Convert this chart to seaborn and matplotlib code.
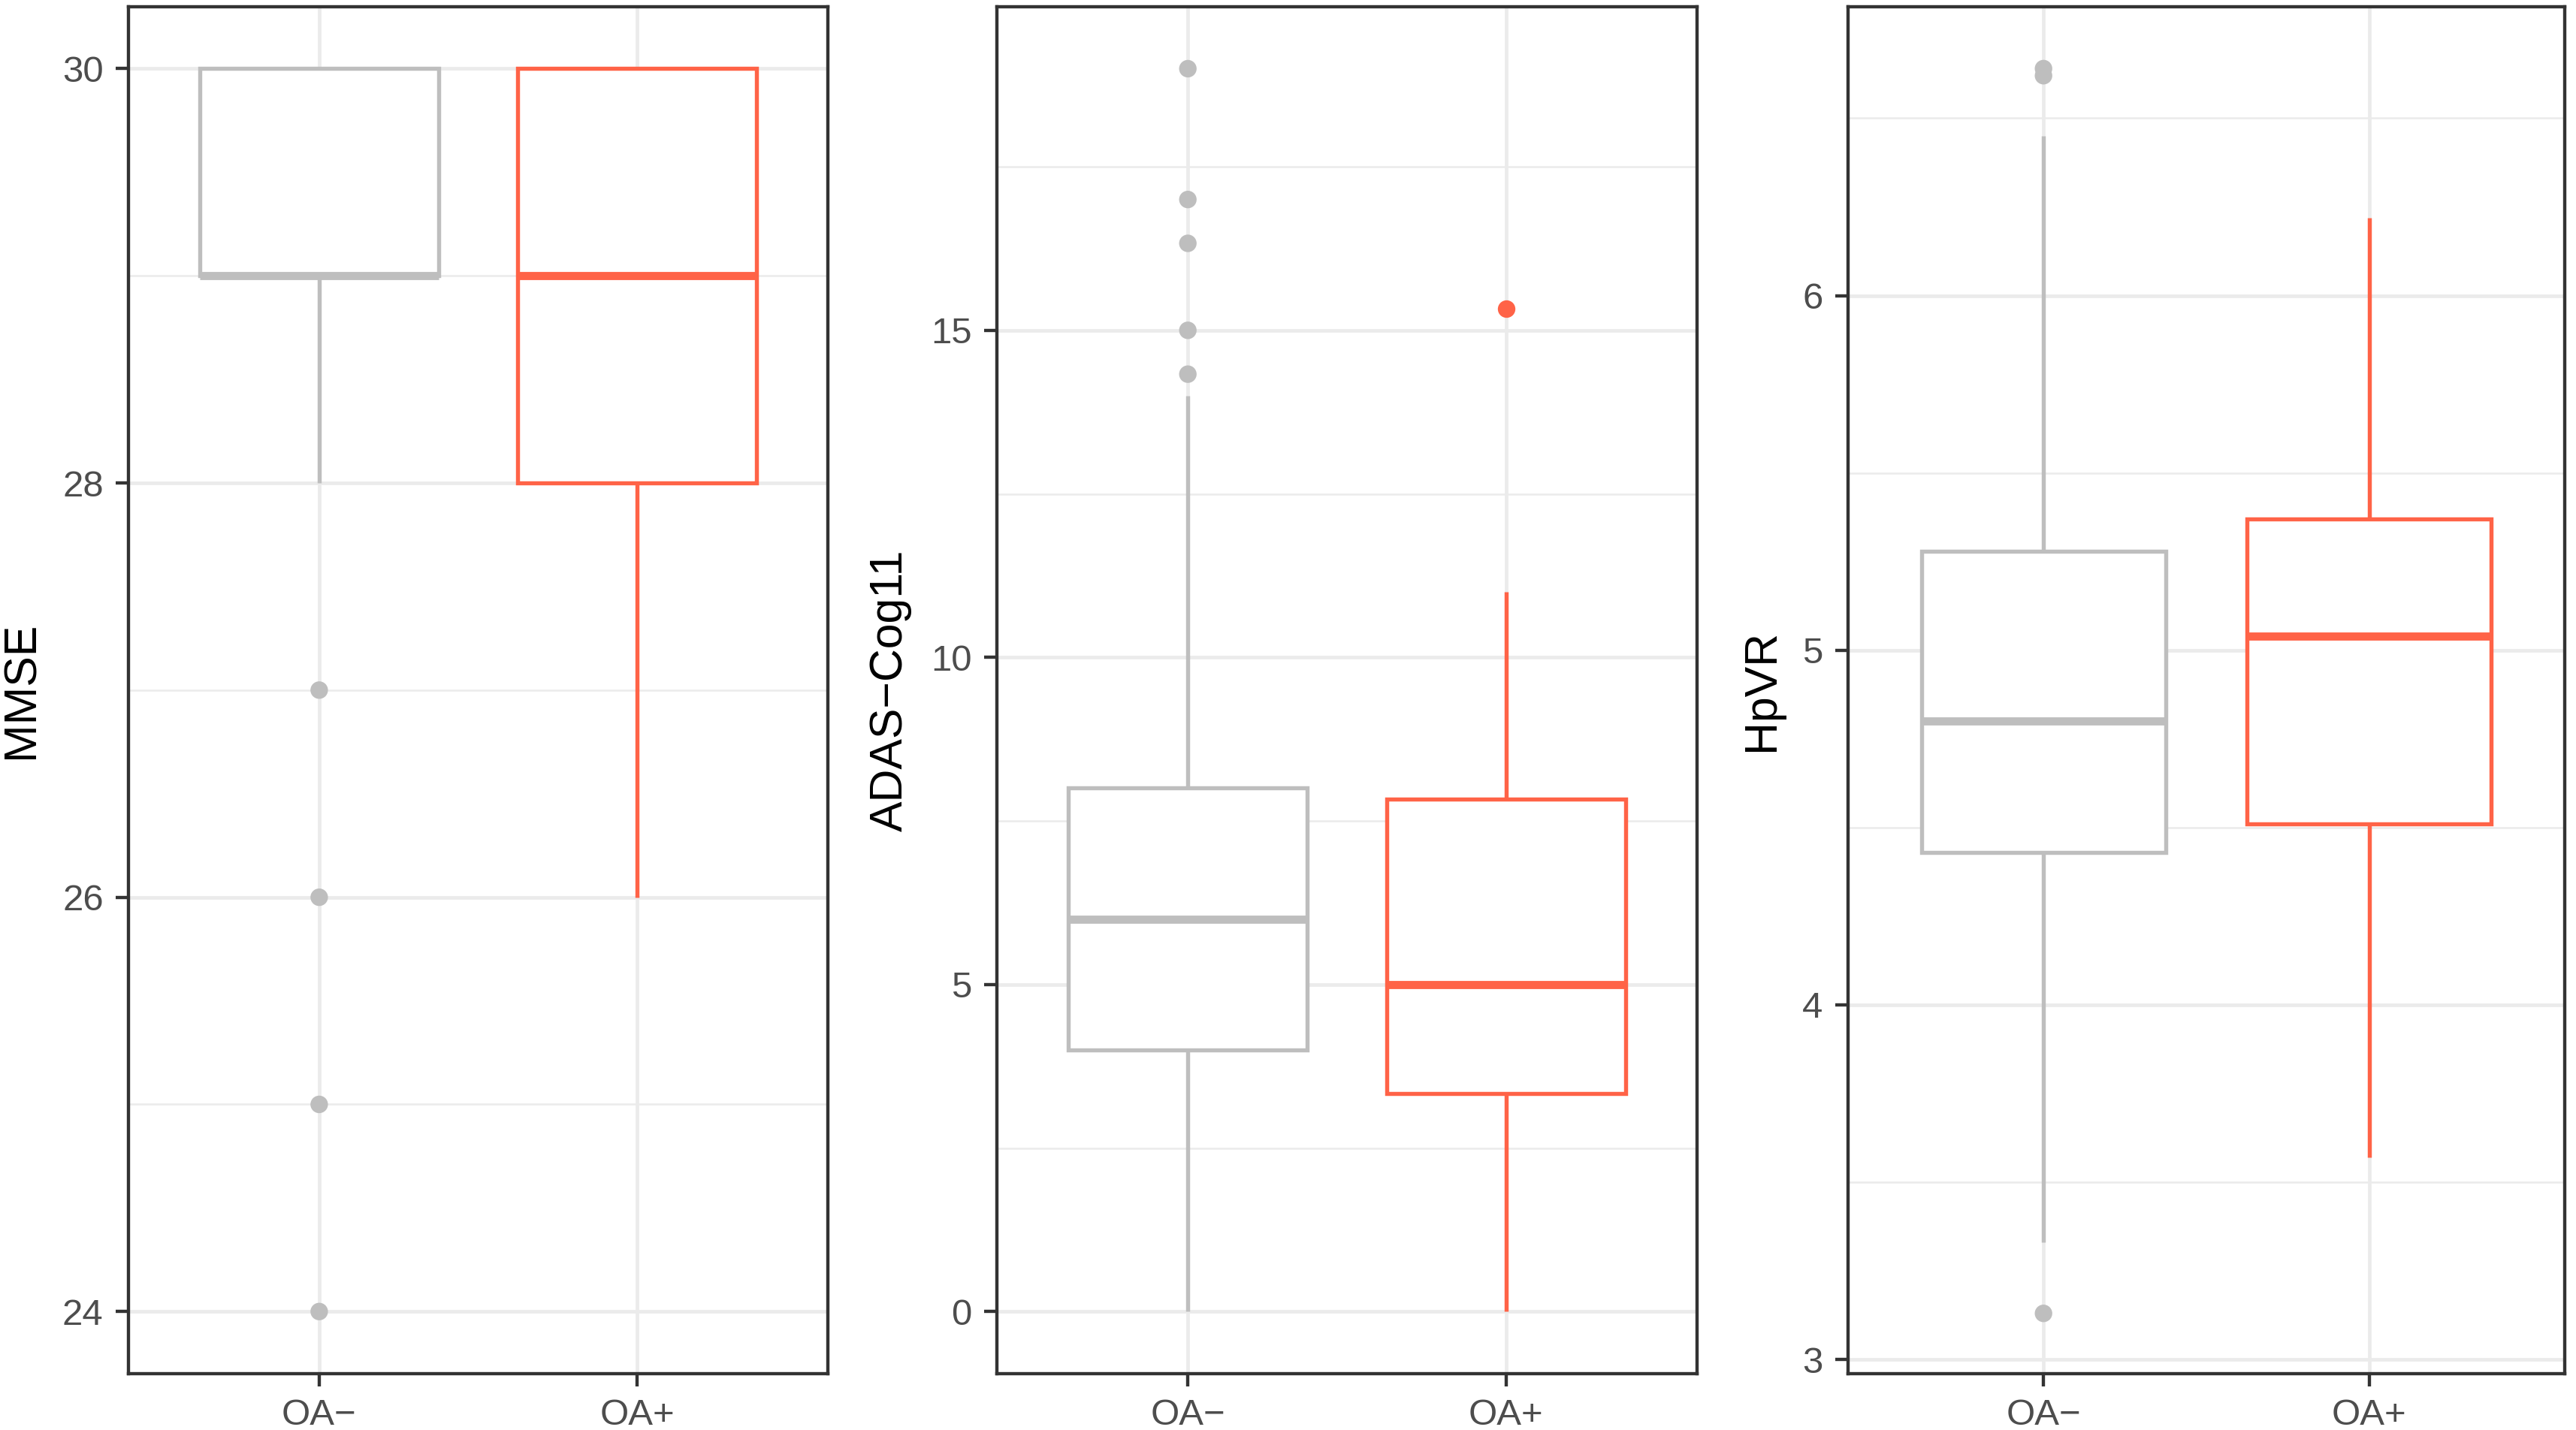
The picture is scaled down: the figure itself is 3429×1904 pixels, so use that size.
import matplotlib
matplotlib.use("Agg")
import matplotlib.pyplot as plt
from matplotlib.ticker import MultipleLocator, FixedLocator
import seaborn as sns
import pandas as pd

# ---------------- data ----------------
groups = ["OA\u2212", "OA+"]
colors = ["#BEBEBE", "#FF6347"]

ylabels = ["MMSE", "ADAS\u2212Cog11", "HpVR"]

# per panel: [OA-, OA+]
whislo = [[28, 26], [0, 0], [3.33, 3.57]]
q1 = [[29, 28], [4, 3.33], [4.43, 4.51]]
med = [[29, 29], [6, 5], [4.80, 5.04]]
q3 = [[30, 30], [8, 7.83], [5.28, 5.37]]
whishi = [[30, 30], [14, 11], [6.45, 6.22]]
outliers = [
    [[27, 26, 25, 24], []],
    [[14.33, 15, 16.33, 17, 19], [15.33]],
    [[3.13, 6.62, 6.64], []],
]

yticks = [[24, 26, 28, 30], [0, 5, 10, 15], [3, 4, 5, 6]]
ylims = [(23.7, 30.3), (-0.95, 19.95), (2.96, 6.815)]
minor_step = [1, 2.5, 0.5]

# ---------------- style ----------------
sns.set_theme(style="white")
plt.rcParams["font.family"] = ["Liberation Sans", "DejaVu Sans"]

W, H = 3429, 1904
DPI = 300
fig = plt.figure(figsize=(W / DPI, H / DPI), dpi=DPI)
fig.patch.set_facecolor("white")

lefts = [171, 1327, 2460]
rights = [1102, 2259, 3414]
top_px, bot_px = 8.7, 1829
axes = []
for l, r in zip(lefts, rights):
    axes.append(fig.add_axes([l / W, 1 - bot_px / H, (r - l) / W, (bot_px - top_px) / H]))

box_lw = 1.3
grid_col = "#EBEBEB"

for i, ax in enumerate(axes):
    # outlier points via seaborn on the categorical axis
    rows = []
    for g, vals in zip(groups, outliers[i]):
        for v in vals:
            rows.append({"group": g, "value": v})
    df = pd.DataFrame(rows, columns=["group", "value"])
    sns.stripplot(data=df, x="group", y="value", hue="group", order=groups,
                  hue_order=groups, palette=colors, jitter=False, size=5.6,
                  linewidth=0, legend=False, ax=ax, zorder=4)

    for j in range(2):
        st = [{"whislo": whislo[i][j], "q1": q1[i][j], "med": med[i][j],
               "q3": q3[i][j], "whishi": whishi[i][j], "fliers": []}]
        c = colors[j]
        ax.bxp(st, positions=[j], widths=0.75, patch_artist=True,
               showcaps=False, showfliers=False,
               boxprops=dict(facecolor="white", edgecolor=c, linewidth=box_lw),
               medianprops=dict(color=c, linewidth=box_lw * 2.0, solid_capstyle="butt"),
               whiskerprops=dict(color=c, linewidth=box_lw, solid_capstyle="butt"),
               zorder=3)

    ax.set_xlim(-0.6, 1.6)
    ax.set_ylim(*ylims[i])
    ax.xaxis.set_major_locator(FixedLocator([0, 1]))
    ax.set_xticklabels(groups)
    ax.set_yticks(yticks[i])
    ax.set_yticklabels([str(t) for t in yticks[i]])
    ax.yaxis.set_minor_locator(MultipleLocator(minor_step[i]))
    ax.set_axisbelow(True)
    ax.grid(which="major", axis="both", color=grid_col, linewidth=1.15)
    ax.grid(which="minor", axis="y", color=grid_col, linewidth=0.6)
    ax.set_facecolor("white")
    for s in ax.spines.values():
        s.set_visible(True)
        s.set_color("#333333")
        s.set_linewidth(1.05)
    ax.tick_params(which="major", direction="out", length=4.0, width=1.05,
                   color="#333333", labelcolor="#4D4D4D", labelsize=11.8, pad=4,
                   left=True, bottom=True)
    ax.tick_params(which="minor", length=0)
    ax.set_xlabel("")
    ax.set_ylabel(ylabels[i], fontsize=14.6, color="black", labelpad=6)

fig.savefig("out.png", dpi=DPI, facecolor="white")
